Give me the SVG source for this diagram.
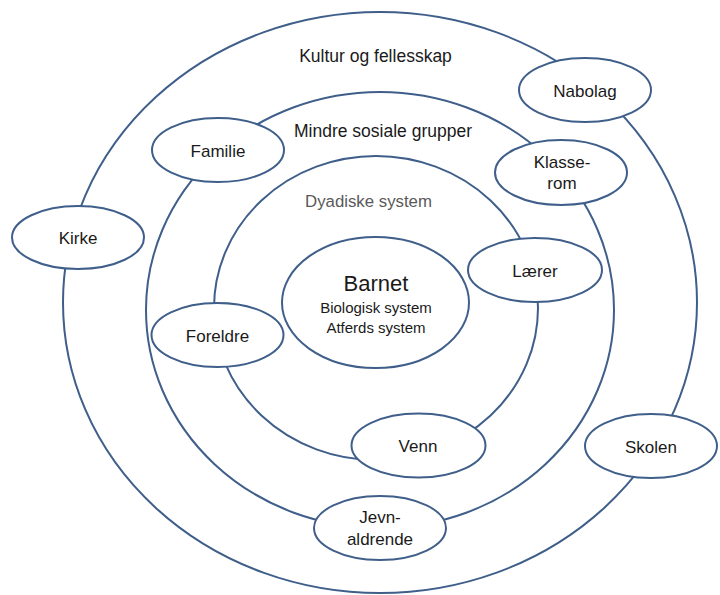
<svg xmlns="http://www.w3.org/2000/svg" width="720" height="595" viewBox="0 0 720 595">
<style>
.ring{fill:none;stroke:#3f5f8a;stroke-width:2}
.node{fill:#ffffff;stroke:#3f5f8a;stroke-width:2}
text{font-family:"Liberation Sans",Arial,sans-serif;fill:#1a1a1a;text-anchor:middle}
.lbl{font-size:17px}
.reg{font-size:17.5px}
.dy{font-size:16.8px;fill:#595959}
</style>
<rect x="0" y="0" width="720" height="595" fill="#ffffff"/>
<g id="connectors">
<ellipse class="ring" cx="380" cy="302.5" rx="317" ry="290.5"/>
<ellipse class="ring" cx="380" cy="310" rx="234" ry="218"/>
<ellipse class="ring" cx="376" cy="308" rx="162" ry="152"/>
</g>
<g id="region-labels">
<text class="reg" x="375.5" y="62">Kultur og fellesskap</text>
<text class="reg" x="383" y="137">Mindre sosiale grupper</text>
<text class="dy" x="368.5" y="207">Dyadiske system</text>
</g>
<g id="barnet">
<ellipse class="node" cx="375.5" cy="302.5" rx="93.5" ry="65.5"/>
<text x="376" y="291" style="font-size:22px">Barnet</text>
<text x="376" y="313" style="font-size:15px">Biologisk system</text>
<text x="376" y="333" style="font-size:15px">Atferds system</text>
</g>
<g id="kirke">
<ellipse class="node" cx="78" cy="237.5" rx="66" ry="31.5"/>
<text class="lbl" x="78" y="244">Kirke</text>
</g>
<g id="familie">
<ellipse class="node" cx="218" cy="150" rx="66" ry="32"/>
<text class="lbl" x="218" y="156.5">Familie</text>
</g>
<g id="nabolag">
<ellipse class="node" cx="585" cy="90" rx="66" ry="32"/>
<text class="lbl" x="585" y="96.5">Nabolag</text>
</g>
<g id="klasserom">
<ellipse class="node" cx="561" cy="172.5" rx="66" ry="32.5"/>
<text class="lbl" x="562" y="167.5">Klasse-</text>
<text class="lbl" x="562" y="189">rom</text>
</g>
<g id="laerer">
<ellipse class="node" cx="535" cy="270" rx="67" ry="32"/>
<text class="lbl" x="535" y="276.5">Lærer</text>
</g>
<g id="foreldre">
<ellipse class="node" cx="217.5" cy="335" rx="66" ry="32"/>
<text class="lbl" x="217.5" y="341.5">Foreldre</text>
</g>
<g id="venn">
<ellipse class="node" cx="418.5" cy="445.5" rx="67" ry="32"/>
<text class="lbl" x="418" y="452">Venn</text>
</g>
<g id="skolen">
<ellipse class="node" cx="651" cy="446" rx="66" ry="32"/>
<text class="lbl" x="651" y="452.5">Skolen</text>
</g>
<g id="jevnaldrende">
<ellipse class="node" cx="380" cy="528" rx="66" ry="32"/>
<text class="lbl" x="380" y="523">Jevn-</text>
<text class="lbl" x="380" y="545">aldrende</text>
</g>
</svg>
